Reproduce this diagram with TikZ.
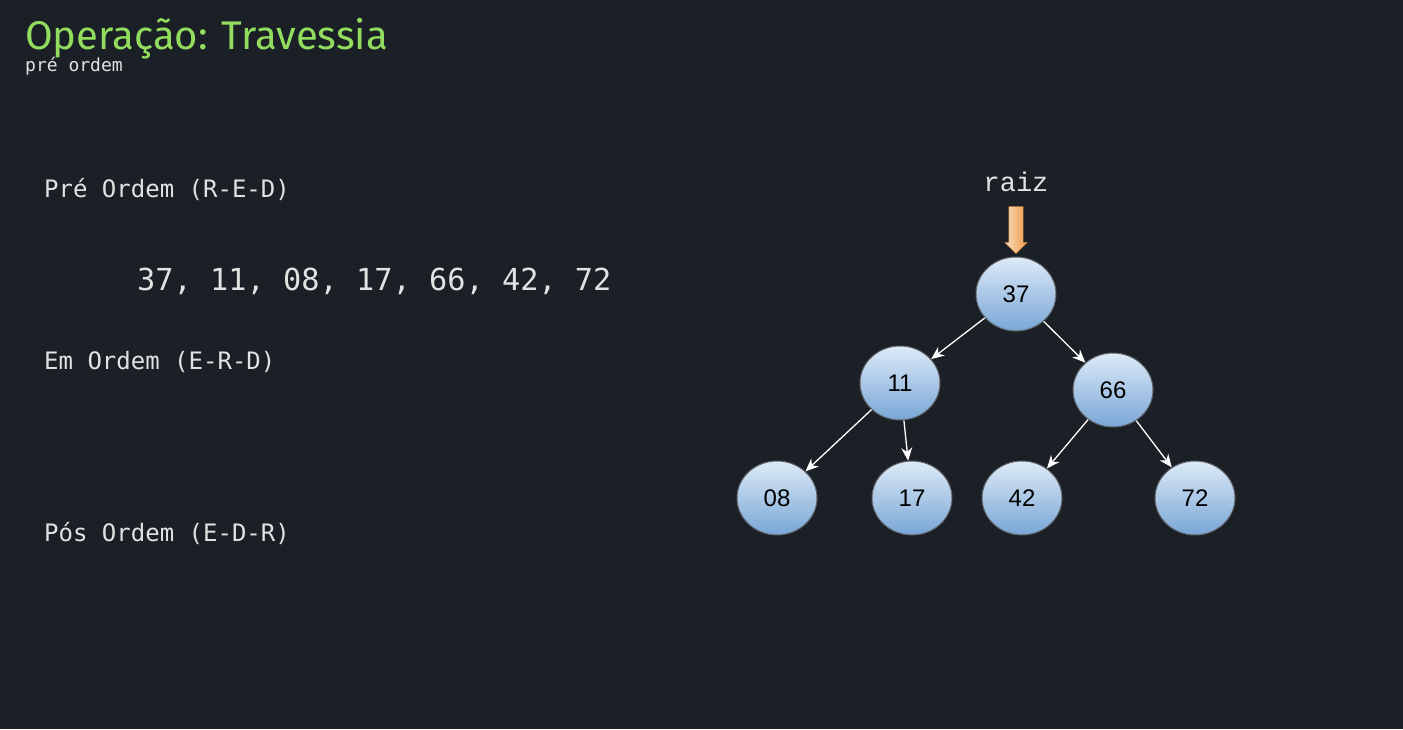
\documentclass[tikz,border=0pt]{standalone}
\usepackage{fontspec}
\usepackage{tikz}
\usetikzlibrary{shapes, shapes.geometric, shapes.arrows, arrows.meta, positioning, calc}
\newfontfamily\titlefont{Fira Sans}
\newfontfamily\codefont{DejaVu Sans Mono}
\newfontfamily\raizfont{Liberation Mono}
\newfontfamily\keyfont{Liberation Sans}
\definecolor{bgdark}{HTML}{1B1F26}
\definecolor{titlegreen}{HTML}{92DD5E}
\definecolor{codegray}{HTML}{E2E2E2}
\definecolor{keytop}{HTML}{DDEAF7}
\definecolor{keybottom}{HTML}{78A6D6}
\definecolor{keyborder}{HTML}{5E6166}
\definecolor{arrowtop}{HTML}{F8DCBC}
\definecolor{arrowbottom}{HTML}{F09A48}

\begin{document}
\begin{tikzpicture}[
			x=1pt, y=-1pt,
			keynode/.style={ellipse, draw=keyborder, line width=1pt,
				top color=keytop, bottom color=keybottom,
				minimum width=80pt, minimum height=74pt, inner sep=0pt,
				font=\keyfont\fontsize{24}{24}\selectfont, text=black},
			codetext/.style={anchor=base west, inner sep=0pt, text=codegray,
				font=\codefont\fontsize{24}{24}\selectfont},
			edge/.style={draw=white, line width=1.3pt, -{Stealth[length=13pt,width=11pt]}}]
		\fill[bgdark] (0,0) rectangle (1403,729);
		\useasboundingbox (0,0) rectangle (1403,729);

		% heading
		\node[anchor=base west, inner sep=0pt, text=titlegreen,
			font=\titlefont\fontsize{40}{40}\selectfont] (title) at (25,49) {Operação: Travessia};
		\node[codetext, font=\codefont\fontsize{18}{18}\selectfont] (subtitle) at (25,71) {pré ordem};

		% traversals
		\node[codetext] (pre)  at (44,197) {Pré Ordem (R-E-D)};
		\node[codetext, font=\codefont\fontsize{30.3}{30.3}\selectfont] (preseq) at (137,290) {37, 11, 08, 17, 66, 42, 72};
		\node[codetext] (em)   at (44,369) {Em Ordem (E-R-D)};
		\node[codetext] (pos)  at (44,541) {Pós Ordem (E-D-R)};

		% tree
		\node[keynode] (n37) at (1016,294) {37};
		\node[keynode] (n11) at (900,383)  {11};
		\node[keynode] (n66) at (1113,390) {66};
		\node[keynode] (n08) at (777,498)  {08};
		\node[keynode] (n17) at (912,498)  {17};
		\node[keynode] (n42) at (1022,498) {42};
		\node[keynode] (n72) at (1195,498) {72};
		\foreach \from/\to in {n37/n11, n37/n66, n11/n08, n11/n17, n66/n42, n66/n72}
			\draw[edge] (\from) -- (\to);

		% root pointer
		\node[anchor=base, inner sep=0pt, text=codegray,
			font=\raizfont\fontsize{27}{27}\selectfont] (raiz) at (1016,191) {raiz};
		\node[single arrow, rotate=-90, draw=arrowbottom!80!black, line width=0.4pt,
			left color=arrowtop, right color=arrowbottom,
			minimum height=47pt, inner sep=0pt,
			single arrow head extend=4pt, single arrow head indent=0pt] (raizarrow) at (1016,226.5) {\rule{0pt}{14pt}};
	\end{tikzpicture}
\end{document}
